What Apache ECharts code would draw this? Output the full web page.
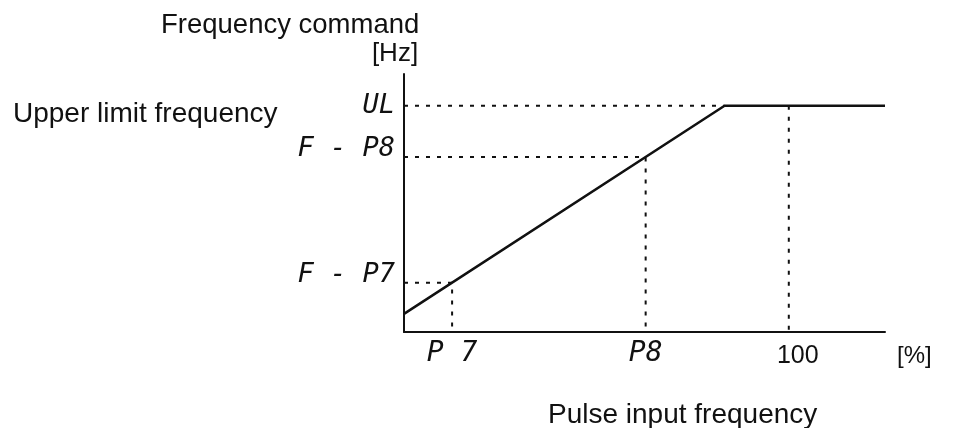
<!DOCTYPE html>
<html>
<head>
<meta charset="utf-8">
<script src="https://cdn.jsdelivr.net/npm/echarts@6/dist/echarts.min.js"></script>
<style>html,body{margin:0;padding:0;background:#fff}#c{width:967px;height:428px}</style>
</head>
<body>
<div id="c"></div>
<script>
// ---- data ----
const commandLine = [[0, 8], [83.3, 100], [125, 100]];   // frequency command vs pulse input %
const xTickValues = [12.5, 62.8, 100];
const xTickLabels = ['P 7', 'P8', '100'];
const yTickValues = [21.8, 77.3, 100];
const yTickLabels = ['F - P7', 'F - P8', 'UL'];
const guideP7 = [[0, 21.8], [12.5, 21.8], [12.5, 0]];
const guideP8 = [[0, 77.3], [62.8, 77.3], [62.8, 0]];
const guideUL = [[0, 100], [83.3, 100]];
const guide100 = [[100, 100], [100, 0]];
const texts = {
  yTitle: 'Frequency command',
  yUnit: '[Hz]',
  upper: 'Upper limit frequency',
  xTitle: 'Pulse input frequency',
  xUnit: '[%]'
};

const chart = echarts.init(document.getElementById('c'));
const SANS = '"Liberation Sans", Arial, sans-serif';
const SEG = '"DejaVu Sans Mono", monospace';
const dotted = { color: '#111', width: 2, type: [4, 7] };
function guide(data) {
  return { type: 'line', data: data, symbol: 'none', silent: true, lineStyle: dotted, z: 1 };
}
chart.setOption({
  animation: false,
  backgroundColor: '#fff',
  title: [
    { text: texts.yTitle, left: 156, top: 6, textStyle: { fontFamily: SANS, fontSize: 27.5, fontWeight: 'normal', color: '#111' } },
    { text: texts.upper, left: 8, top: 95, textStyle: { fontFamily: SANS, fontSize: 28, fontWeight: 'normal', color: '#111' } },
    { text: texts.xTitle, left: 543, top: 396, textStyle: { fontFamily: SANS, fontSize: 28, fontWeight: 'normal', color: '#111' } }
  ],
  grid: { left: 404, right: 82, top: 74, bottom: 96, containLabel: false },
  xAxis: {
    type: 'value', min: 0, max: 125,
    name: texts.xUnit, nameLocation: 'end', nameGap: 12,
    nameTextStyle: { fontFamily: SANS, fontSize: 24, color: '#111', verticalAlign: 'top', padding: [12, 0, 0, 0] },
    axisLine: { show: true, lineStyle: { color: '#111', width: 2 } },
    axisTick: { show: false },
    splitLine: { show: false },
    axisLabel: {
      customValues: xTickValues,
      margin: 8,
      formatter: function (v) {
        const i = xTickValues.indexOf(v);
        const t = i >= 0 ? xTickLabels[i] : '';
        return i === 2 ? '{num|' + t + '}' : '{seg|' + t + '}';
      },
      rich: {
        seg: { fontFamily: SEG, fontStyle: 'italic', fontSize: 28, color: '#111' },
        num: { fontFamily: SANS, fontSize: 25, color: '#111', padding: [4, 0, 0, 18] }
      }
    }
  },
  yAxis: {
    type: 'value', min: 0, max: 114,
    name: texts.yUnit, nameLocation: 'end', nameGap: 7,
    nameTextStyle: { fontFamily: SANS, fontSize: 26, color: '#111', padding: [0, 18, 0, 0] },
    axisLine: { show: true, lineStyle: { color: '#111', width: 2 } },
    axisTick: { show: false },
    splitLine: { show: false },
    axisLabel: {
      customValues: yTickValues,
      margin: 9,
      formatter: function (v) {
        const i = yTickValues.indexOf(v);
        const t = i >= 0 ? yTickLabels[i] : '';
        return i === 2 ? '{seg|' + t + '}' : '{segUp|' + t + '}';
      },
      rich: {
        seg: { fontFamily: SEG, fontStyle: 'italic', fontSize: 27, color: '#111' },
        segUp: { fontFamily: SEG, fontStyle: 'italic', fontSize: 27, color: '#111', padding: [0, 0, 16, 0] }
      }
    }
  },
  series: [
    guide(guideP7), guide(guideP8), guide(guideUL), guide(guide100),
    { type: 'line', data: commandLine, symbol: 'none', lineStyle: { color: '#111', width: 2.5 }, z: 3 }
  ]
});
</script>
</body>
</html>
